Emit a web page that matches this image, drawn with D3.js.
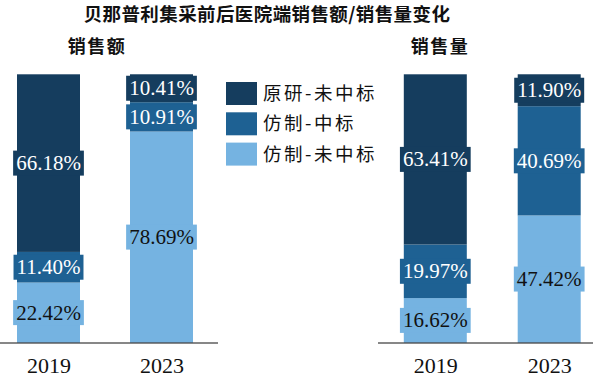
<!DOCTYPE html>
<html><head><meta charset="utf-8">
<script src="https://cdn.jsdelivr.net/npm/d3@7"></script>
<style>body{margin:0;background:#fff}svg{display:block}</style>
</head><body>
<svg id="c" width="593" height="381"></svg>
<script>
const years = ["2019", "2023"];
const seriesNames = ["原研-未中标", "仿制-中标", "仿制-未中标"];
// 销售额 (sales value) shares, %
const valueOriginalUnwon = [66.18, 10.41];
const valueGenericWon = [11.40, 10.91];
const valueGenericUnwon = [22.42, 78.69];
// 销售量 (sales volume) shares, %
const volumeOriginalUnwon = [63.41, 11.90];
const volumeGenericWon = [19.97, 40.69];
const volumeGenericUnwon = [16.62, 47.42];
const title = "贝那普利集采前后医院端销售额/销售量变化";
const panelTitles = ["销售额", "销售量"];

const colors = {"原研-未中标": "#153d5e", "仿制-中标": "#1e6193", "仿制-未中标": "#75b3e1"};
const textColors = {"原研-未中标": "#fff", "仿制-中标": "#fff", "仿制-未中标": "#111"};
const cjk = "'Noto Sans CJK SC', sans-serif";
const serif = "'Liberation Serif', 'Times New Roman', serif";

const svg = d3.select("#c");

svg.append("text").attr("x", 267).attr("y", 21).attr("text-anchor", "middle")
  .attr("font-family", cjk).attr("font-weight", "bold").attr("font-size", 18.5)
  .attr("letter-spacing", 0.4)
  .attr("fill", "#111").text(title);

function buildRows(a, b, c) {
  return years.map((y, i) => ({year: y, "原研-未中标": a[i], "仿制-中标": b[i], "仿制-未中标": c[i]}));
}

const panels = [
  {rows: buildRows(valueOriginalUnwon, valueGenericWon, valueGenericUnwon), xr: [48.5, 161.5], axis: [0, 218], tx: 97, name: panelTitles[0]},
  {rows: buildRows(volumeOriginalUnwon, volumeGenericWon, volumeGenericUnwon), xr: [435.3, 549.2], axis: [378, 593], tx: 440, name: panelTitles[1]}
];

const y = d3.scaleLinear().domain([0, 100]).range([342.7, 74.3]);
const barW = 63;
const stack = d3.stack().keys(["仿制-未中标", "仿制-中标", "原研-未中标"]);

panels.forEach(p => {
  const x = d3.scalePoint().domain(years).range(p.xr);
  const g = svg.append("g");
  g.append("text").attr("x", p.tx).attr("y", 53).attr("text-anchor", "middle")
    .attr("font-family", cjk).attr("font-weight", "bold").attr("font-size", 18)
    .attr("letter-spacing", 1.5)
    .attr("fill", "#111").text(p.name);

  const layers = stack(p.rows);
  layers.forEach(layer => {
    g.selectAll(null).data(layer).enter().append("rect")
      .attr("x", d => x(d.data.year) - barW / 2)
      .attr("width", barW)
      .attr("y", d => y(d[1]))
      .attr("height", d => y(d[0]) - y(d[1]))
      .attr("fill", colors[layer.key]);
  });
  layers.forEach(layer => {
    layer.forEach(d => {
      const cx = x(d.data.year), cy = (y(d[0]) + y(d[1])) / 2;
      const lg = g.append("g");
      const r = lg.append("rect").attr("fill", colors[layer.key]);
      const t = lg.append("text").attr("x", cx).attr("y", cy + 7)
        .attr("text-anchor", "middle").attr("font-family", serif).attr("font-size", 21)
        .attr("fill", textColors[layer.key]).text(d.data[layer.key].toFixed(2) + "%");
      const w = t.node().getComputedTextLength() + 6;
      r.attr("x", cx - w / 2).attr("y", cy - 12.5).attr("width", w).attr("height", 25);
    });
  });

  g.append("line").attr("x1", p.axis[0]).attr("x2", p.axis[1])
    .attr("y1", 343).attr("y2", 343).attr("stroke", "#111").attr("stroke-width", 1.2);
  const axis = d3.axisBottom(x).tickSize(0).tickPadding(10);
  const ag = g.append("g").attr("transform", "translate(0,343)").call(axis);
  ag.select(".domain").remove();
  ag.selectAll("text").attr("font-family", serif).attr("font-size", 22).attr("fill", "#111")
    .attr("dy", "0.9em");
});

// legend
const lg = svg.append("g");
seriesNames.forEach((s, i) => {
  lg.append("rect").attr("x", 226).attr("y", 82 + i * 30.3).attr("width", 31).attr("height", 23)
    .attr("fill", colors[s]);
  lg.append("text").attr("x", 263).attr("y", 100 + i * 30.3)
    .attr("font-family", cjk).attr("font-size", 18.5).attr("letter-spacing", 2.5)
    .attr("fill", "#111").text(s);
});
</script>
</body></html>
